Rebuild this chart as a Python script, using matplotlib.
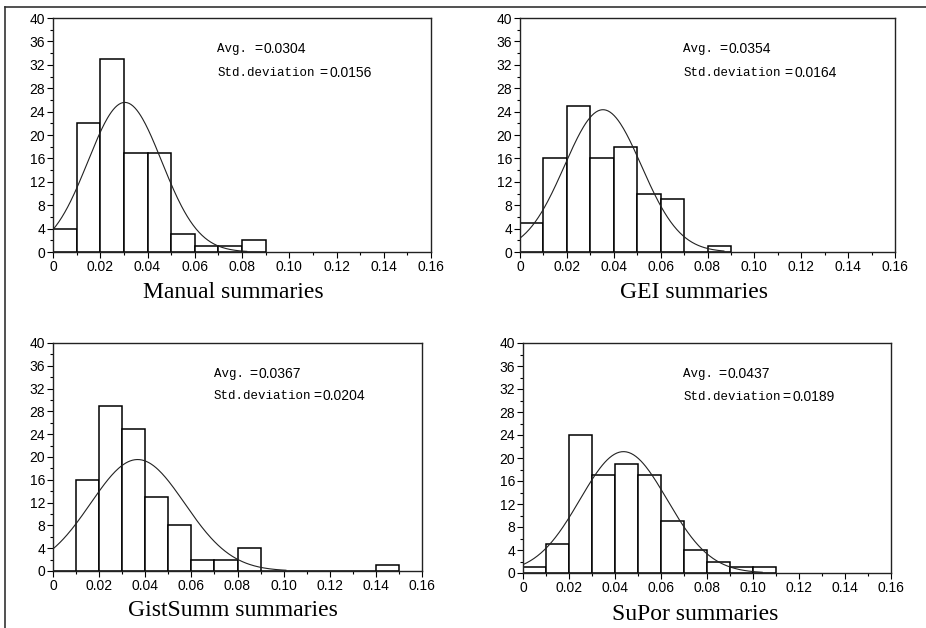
import numpy as np
import matplotlib
matplotlib.use("Agg")
import matplotlib.pyplot as plt
from matplotlib.lines import Line2D

# histogram data, bins of width 0.01 starting at 0
bin_width = 0.01
manual_counts = [4, 22, 33, 17, 17, 3, 1, 1, 2]
gei_counts = [5, 16, 25, 16, 18, 10, 9, 0, 1]
gistsumm_counts = [0, 16, 29, 25, 13, 8, 2, 2, 4, 0, 0, 0, 0, 0, 1]
supor_counts = [1, 5, 24, 17, 19, 17, 9, 4, 2, 1, 1]

titles = ["Manual summaries", "GEI summaries", "GistSumm summaries", "SuPor summaries"]
avgs = [0.0304, 0.0354, 0.0367, 0.0437]
stds = [0.0156, 0.0164, 0.0204, 0.0189]
curve_end = [0.082, 0.087, 0.101, 0.104]  # where the fitted curve stops
n_samples = 100

all_counts = [manual_counts, gei_counts, gistsumm_counts, supor_counts]

W, H = 926, 628
fig = plt.figure(figsize=(W / 100, H / 100), dpi=100)

# axes boxes in pixels: left, top, right, bottom
boxes = [(53, 18, 431, 252), (520, 18, 895, 252),
         (53, 343, 422, 571), (523, 343, 891, 573)]
label_pos = [(233, 292), (694, 292), (233, 611), (695, 615)]

tick_font = "Liberation Sans"
mono_font = "Liberation Mono"

for i in range(4):
    l, t, r, b = boxes[i]
    ax = fig.add_axes([l / W, 1 - b / H, (r - l) / W, (b - t) / H])
    counts = all_counts[i]
    edges = np.arange(len(counts)) * bin_width
    ax.bar(edges, counts, width=bin_width, align="edge", color="white",
           edgecolor="black", linewidth=1.1)

    # fitted normal curve scaled to counts
    xs = np.linspace(0, curve_end[i], 200)
    ys = n_samples * bin_width / (stds[i] * np.sqrt(2 * np.pi)) * np.exp(-0.5 * ((xs - avgs[i]) / stds[i]) ** 2)
    ax.plot(xs, ys, color="#222222", linewidth=0.8)

    ax.set_xlim(0, 0.16)
    ax.set_ylim(0, 40)
    ax.set_xticks(np.arange(0, 0.161, 0.02))
    ax.set_xticklabels(["0"] + ["%.2f" % v for v in np.arange(0.02, 0.161, 0.02)])
    ax.set_xticks(np.arange(0.01, 0.16, 0.02), minor=True)
    ax.set_yticks(np.arange(0, 41, 4))
    ax.set_yticks(np.arange(2, 40, 4), minor=True)
    ax.tick_params(which="major", length=4, width=0.8, direction="out", labelsize=10, pad=1.5)
    ax.tick_params(which="minor", length=2, width=0.8, direction="out")
    for lab in ax.get_xticklabels() + ax.get_yticklabels():
        lab.set_fontfamily(tick_font)
    for sp in ax.spines.values():
        sp.set_linewidth(1.0)
        sp.set_color("#222222")

    # stats text
    ax.text(0.435, 0.866, "Avg.", transform=ax.transAxes, family=mono_font,
            fontsize=9, va="center", ha="left")
    ax.text(0.532, 0.866, "=", transform=ax.transAxes, family=tick_font,
            fontsize=10, va="center", ha="left")
    ax.text(0.556, 0.866, "%.4f" % avgs[i], transform=ax.transAxes, family=tick_font,
            fontsize=10, va="center", ha="left")
    ax.text(0.435, 0.767, "Std.deviation", transform=ax.transAxes, family=mono_font,
            fontsize=9, va="center", ha="left")
    ax.text(0.706, 0.767, "=", transform=ax.transAxes, family=tick_font,
            fontsize=10, va="center", ha="left")
    ax.text(0.731, 0.767, "%.4f" % stds[i], transform=ax.transAxes, family=tick_font,
            fontsize=10, va="center", ha="left")

    lx, ly = label_pos[i]
    fig.text(lx / W, 1 - ly / H, titles[i], family="Liberation Serif", fontsize=17,
             ha="center", va="center")

# outer frame lines (top and left)
fig.add_artist(Line2D([5 / W, 1.0], [1 - 7 / H, 1 - 7 / H], transform=fig.transFigure,
                      color="#333333", linewidth=1.2))
fig.add_artist(Line2D([5 / W, 5 / W], [1 - 7 / H, 0.0], transform=fig.transFigure,
                      color="#333333", linewidth=1.2))

fig.savefig("out.png", dpi=100)
